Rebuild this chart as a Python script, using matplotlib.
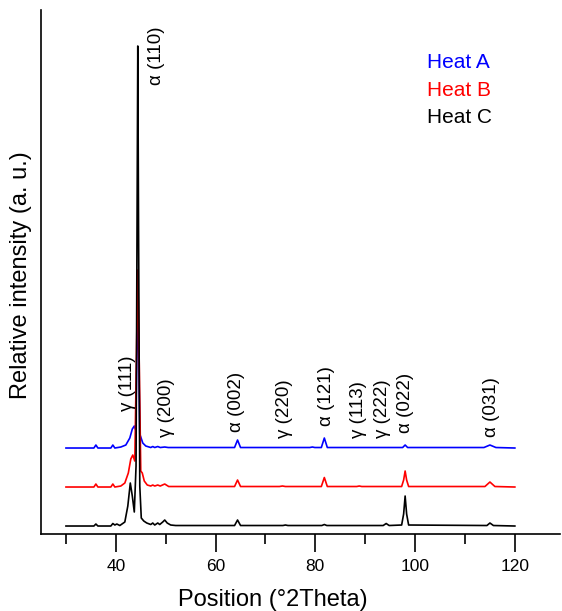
import numpy as np
import matplotlib
matplotlib.use('Agg')
import matplotlib.pyplot as plt

plt.rcParams['font.family'] = ['Liberation Sans', 'DejaVu Sans']

# 2theta positions and intensities (relative to each pattern's own baseline)
x_c = [30, 35.6, 36.0, 36.4, 39.0, 39.4, 39.8, 40.2, 40.8, 41.8, 42.4, 42.9, 43.3, 43.7,
       44.05, 44.25, 44.4, 44.55, 44.8, 45.1, 45.6, 46.2, 47.0, 47.4, 47.8, 48.4, 48.8,
       49.4, 49.8, 50.3, 51.0, 52.0, 63.8, 64.4, 65.0, 73.5, 74.0, 74.5, 81.3, 81.8, 82.3,
       93.6, 94.2, 94.8, 97.3, 97.7, 98.0, 98.3, 98.7, 114.4, 115.0, 115.7, 120]
y_c = [0, 0, 2, 0, 0, 2.5, 1, 2, 0.5, 4, 20, 43, 30, 14,
       60, 300, 480, 300, 40, 8, 5, 3, 1.5, 3, 1, 3, 1.5,
       4, 6, 3, 1, 0.5, 0.5, 6, 0.5, 0.5, 1, 0.5, 0.5, 1.5, 0.5,
       0.5, 2.5, 0.5, 1, 12, 30, 12, 1, 0.5, 3, 0.5, 0]

x_b = [30, 35.6, 36.0, 36.4, 39.0, 39.4, 39.8, 41.0, 41.8, 42.5, 43.0, 43.4, 43.8,
       44.1, 44.4, 44.7, 45.0, 45.3, 45.7, 46.3, 47.0, 47.4, 47.8, 48.4, 48.9, 49.8,
       50.6, 63.8, 64.4, 65.0, 72.8, 73.4, 74.0, 81.2, 81.8, 82.4, 88.3, 88.8, 89.3,
       97.3, 97.7, 98.0, 98.3, 98.7, 114.0, 115.0, 116.0, 120]
y_b = [0, 0, 3, 0, 0, 3, 0, 1, 4, 14, 28, 32, 26,
       120, 217, 120, 16, 14, 6, 2, 1, 2, 1, 2, 1, 3,
       0.5, 0.5, 7, 0.5, 0.5, 1, 0.5, 0.5, 9.5, 0.5, 0.5, 1, 0.5,
       0.5, 7, 16, 7, 0.5, 0.5, 5, 0.5, 0]

x_a = [30, 35.6, 36.0, 36.4, 39.0, 39.4, 39.8, 41.0, 42.0, 42.8, 43.3, 43.7, 44.0,
       44.2, 44.4, 44.6, 44.8, 45.0, 45.4, 46.0, 47.0, 47.4, 47.8, 48.4, 48.9, 49.8,
       50.5, 63.8, 64.4, 65.0, 78.9, 79.4, 79.9, 81.2, 81.8, 82.4, 97.5, 98.0, 98.5,
       113.8, 115.0, 116.2, 120]
y_a = [0, 0, 3, 0, 0, 3, 0, 1, 3, 10, 19, 22, 18,
       90, 150, 90, 14, 11, 5, 2, 0.5, 1.5, 0.5, 1.5, 0.5, 1,
       0.5, 0.5, 8, 0.5, 0.5, 1, 0.5, 0.5, 10, 0.5, 0.5, 3, 0.5,
       0.5, 3, 0.5, 0]

offsets = [86, 47, 8]
names = ['Heat A', 'Heat B', 'Heat C']
colors = ['#0000ff', '#ff0000', '#000000']

# reflection labels: text, 2theta, height of label bottom
peak_names = ['γ (111)', 'α (110)', 'γ (200)', 'α (002)', 'γ (220)', 'α (121)',
              'γ (113)', 'γ (222)', 'α (022)', 'α (031)']
peak_x = [42.4, 48.1, 50.2, 64.2, 73.8, 82.2, 88.6, 93.4, 98.0, 115.4]
peak_y = [123, 449, 97, 102, 96, 108, 96, 96, 101, 97]

fig = plt.figure(figsize=(5.62, 6.11), dpi=100)
ax = fig.add_axes([0.073, 0.126, 0.923, 0.8576])

for xs, ys, off, c in zip([x_a, x_b, x_c], [y_a, y_b, y_c], offsets, colors):
    ax.plot(xs, np.array(ys) + off, color=c, lw=1.2)

for t, px, py in zip(peak_names, peak_x, peak_y):
    ax.text(px, py, t, rotation=90, ha='center', va='bottom', fontsize=13.5)

for i, (n, c) in enumerate(zip(names, colors)):
    ax.text(0.744, 0.90 - i*0.053, n, color=c, fontsize=15, va='center', ha='left',
            transform=ax.transAxes)

ax.set_xlim(25, 129)
ax.set_ylim(0, 524)
ax.set_xticks([40, 60, 80, 100, 120])
ax.set_xticks(np.arange(30, 121, 10), minor=True)
ax.tick_params(axis='x', which='major', length=13, width=1.2, labelsize=12.5, pad=5)
ax.tick_params(axis='x', which='minor', length=7, width=1.2)
ax.set_yticks([])
ax.spines['top'].set_visible(False)
ax.spines['right'].set_visible(False)
ax.spines['left'].set_linewidth(1.2)
ax.spines['bottom'].set_linewidth(1.2)

ax.set_xlabel('Position (°2Theta)', fontsize=17)
ax.set_ylabel('Relative intensity (a. u.)', fontsize=17)
ax.xaxis.set_label_coords(0.447, -0.104)
ax.yaxis.set_label_coords(-0.018, 0.494)

plt.savefig('out.png', dpi=100)
